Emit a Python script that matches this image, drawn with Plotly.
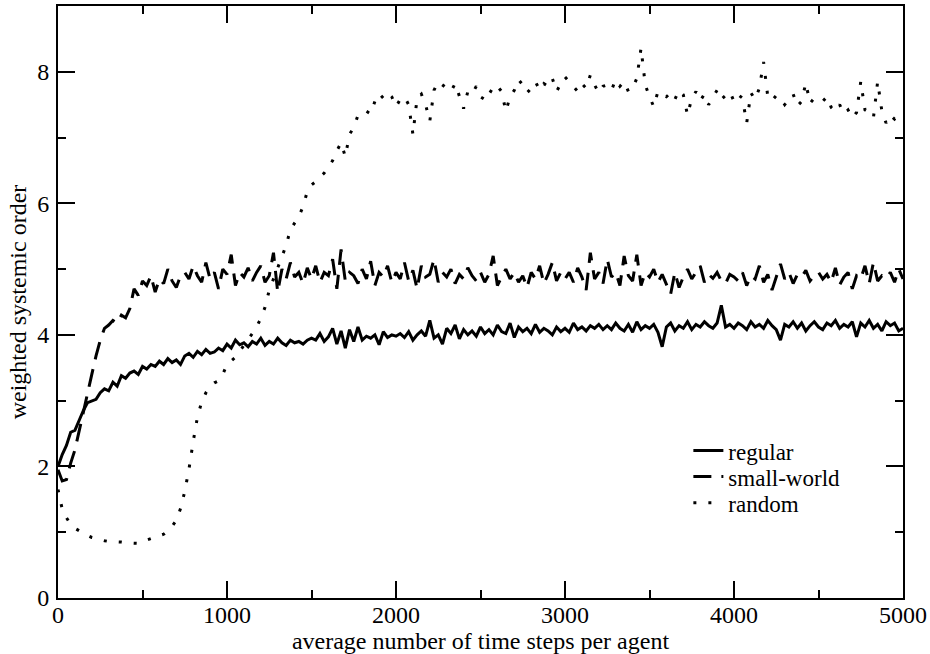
import plotly.graph_objects as go

# time steps (every 25 steps, 0..5000)
steps = list(range(0, 5001, 25))

regular = [
    2.00, 2.18, 2.32, 2.52, 2.55, 2.70, 2.85, 2.97, 2.99, 3.02,
    3.12, 3.18, 3.15, 3.28, 3.22, 3.38, 3.34, 3.42, 3.45, 3.40,
    3.52, 3.48, 3.55, 3.52, 3.60, 3.55, 3.64, 3.58, 3.62, 3.55,
    3.68, 3.72, 3.66, 3.75, 3.70, 3.78, 3.72, 3.74, 3.80, 3.76,
    3.86, 3.80, 3.92, 3.85, 3.88, 3.82, 3.90, 3.86, 3.95, 3.84,
    3.90, 3.86, 3.95, 3.88, 3.84, 3.92, 3.88, 3.90, 3.86, 3.92,
    3.95, 3.92, 4.02, 3.90, 3.97, 4.10, 3.86, 4.06, 3.80, 4.08,
    3.90, 4.12, 3.92, 3.98, 3.95, 4.00, 3.85, 4.05, 3.96, 4.00,
    3.98, 4.02, 3.96, 4.05, 3.92, 4.00, 4.06, 3.98, 4.22, 3.95,
    4.00, 3.86, 4.10, 4.02, 4.15, 3.94, 4.08, 4.00, 4.06, 3.98,
    4.12, 4.02, 4.08, 4.00, 4.15, 4.05, 4.02, 4.18, 3.96, 4.12,
    4.05, 4.10, 4.02, 4.16, 4.04, 4.10, 4.06, 4.00, 4.12, 4.05,
    4.10, 4.04, 4.18, 4.08, 4.12, 4.06, 4.14, 4.10, 4.16, 4.08,
    4.14, 4.08, 4.18, 4.10, 4.06, 4.16, 4.04, 4.20, 4.08, 4.14,
    4.10, 4.16, 4.04, 3.82, 4.12, 4.18, 4.06, 4.14, 4.10, 4.20,
    4.08, 4.16, 4.12, 4.20, 4.14, 4.10, 4.18, 4.45, 4.12, 4.16,
    4.10, 4.18, 4.14, 4.08, 4.20, 4.12, 4.16, 4.10, 4.22, 4.14,
    4.08, 3.92, 4.16, 4.12, 4.20, 4.10, 4.18, 4.06, 4.14, 4.20,
    4.12, 4.08, 4.18, 4.14, 4.22, 4.10, 4.16, 4.12, 4.20, 3.97,
    4.18, 4.12, 4.22, 4.10, 4.16, 4.06, 4.20, 4.14, 4.18, 4.06,
    4.10,
]

small_world = [
    1.95, 1.78, 1.80, 2.05, 2.25, 2.55, 2.85, 3.12, 3.40, 3.68,
    3.92, 4.10, 4.15, 4.22, 4.18, 4.30, 4.26, 4.40, 4.70, 4.60,
    4.82, 4.75, 4.90, 4.65, 4.85, 4.78, 5.00, 4.82, 4.72, 4.90,
    4.95, 4.85, 5.05, 4.90, 4.80, 5.10, 4.85, 4.95, 4.70, 5.00,
    4.92, 5.22, 4.75, 4.95, 4.88, 5.02, 4.82, 4.95, 5.05, 4.80,
    4.90, 5.25, 4.65, 5.00, 4.85, 5.10, 4.88, 4.95, 4.78, 5.02,
    4.85, 5.05, 4.80, 4.95, 4.90, 5.15, 4.70, 5.30, 4.82, 4.95,
    4.90, 4.78, 5.00, 4.85, 5.12, 4.75, 4.95, 4.88, 5.05, 4.80,
    4.95, 4.85, 5.10, 4.82, 4.98, 4.70, 5.05, 4.88, 4.92, 5.15,
    4.80, 4.95, 4.88, 5.00, 4.78, 4.92, 4.85, 5.02, 4.90, 4.82,
    4.95, 4.80, 4.92, 5.20, 4.75, 4.88, 5.00, 4.85, 4.95, 4.80,
    4.90, 4.72, 4.95, 4.85, 5.05, 4.78, 4.92, 5.10, 4.82, 4.95,
    4.85, 4.95, 4.80, 5.02, 4.88, 4.68, 5.25, 4.85, 4.95, 4.78,
    5.15, 4.88, 4.95, 4.75, 5.20, 4.90, 4.82, 5.22, 4.75, 4.95,
    4.88, 5.00, 4.80, 4.92, 4.78, 4.62, 4.95, 4.72, 4.88, 5.00,
    4.85, 4.95, 5.05, 4.80, 4.92, 4.86, 4.95, 4.82, 4.78, 4.92,
    4.88, 4.82, 4.95, 4.75, 4.90, 4.85, 5.05, 4.80, 4.92, 4.68,
    4.90, 5.08, 4.85, 4.95, 4.78, 4.92, 4.88, 4.98, 4.82, 4.90,
    4.95, 4.85, 4.92, 4.80, 5.02, 4.76, 4.88, 4.95, 4.70, 4.90,
    4.85, 5.05, 4.78, 5.10, 4.82, 4.90, 4.86, 4.95, 4.80, 5.00,
    4.85,
]

random_net = [
    1.65, 1.35, 1.22, 1.12, 1.06, 1.02, 0.98, 0.95, 0.92, 0.90,
    0.88, 0.87, 0.86, 0.86, 0.85, 0.85, 0.84, 0.84, 0.83, 0.83,
    0.86, 0.88, 0.90, 0.92, 0.95, 0.97, 1.02, 1.09, 1.18, 1.36,
    1.62, 1.96, 2.38, 2.75, 2.98, 3.12, 3.22, 3.27, 3.30, 3.40,
    3.55, 3.60, 3.66, 3.75, 3.85, 3.93, 4.02, 4.12, 4.25, 4.42,
    4.68, 4.85, 5.01, 5.20, 5.36, 5.60, 5.70, 5.80, 5.95, 6.18,
    6.28, 6.33, 6.40, 6.46, 6.55, 6.65, 6.80, 6.92, 6.71, 7.05,
    7.15, 7.34, 7.34, 7.40, 7.36, 7.55, 7.67, 7.60, 7.68, 7.62,
    7.47, 7.58, 7.62, 7.50, 7.05, 7.60, 7.66, 7.50, 7.25, 7.72,
    7.85, 7.80, 7.74, 7.70, 7.82, 7.62, 7.44, 7.70, 7.66, 7.78,
    7.62, 7.58, 7.72, 7.68, 7.78, 7.70, 7.40, 7.62, 7.72, 7.88,
    7.80, 7.68, 7.75, 7.85, 7.72, 7.82, 7.78, 7.90, 7.70, 7.82,
    7.92, 7.85, 7.78, 7.70, 7.82, 7.75, 7.95, 7.80, 7.68, 7.78,
    7.80, 7.72, 7.88, 7.78, 7.85, 7.70, 7.75, 7.90, 8.36, 7.80,
    7.62, 7.47, 7.70, 7.65, 7.62, 7.68, 7.58, 7.72, 7.65, 7.34,
    7.60, 7.70, 7.56, 7.66, 7.50, 7.62, 7.72, 7.58, 7.64, 7.70,
    7.55, 7.65, 7.60, 7.22, 7.68, 7.58, 7.75, 8.15, 7.62, 7.56,
    7.64, 7.60, 7.50, 7.58, 7.66, 7.48, 7.55, 7.83, 7.52, 7.60,
    7.58, 7.55, 7.62, 7.46, 7.40, 7.50, 7.36, 7.42, 7.30, 7.38,
    7.85, 7.42, 7.38, 7.30, 7.85, 7.40, 7.22, 7.34, 7.28, 7.35,
    7.38,
]

font_family = 'Liberation Serif, Times New Roman, serif'

series = [
    ('regular', regular, 'solid', 'legend'),
    ('small-world', small_world, '18px,10px', 'legend2'),
    ('random', random_net, '3px,12px', 'legend3'),
]

fig = go.Figure()
for name, values, dash, leg in series:
    fig.add_trace(go.Scatter(
        x=steps, y=values,
        mode='lines',
        name=name,
        line=dict(color='black', width=3, dash=dash),
        legend=leg,
        showlegend=True,
    ))

axis_common = dict(
    showline=True, linewidth=2, linecolor='black',
    mirror='ticks', ticks='inside', ticklen=17, tickwidth=2, tickcolor='black',
    showgrid=False, zeroline=False, automargin=False,
    tickfont=dict(family=font_family, size=24, color='black'),
)

fig.update_xaxes(
    range=[0, 5000], dtick=1000, tick0=0,
    minor=dict(dtick=500, ticklen=8, tickwidth=2, tickcolor='black', ticks='inside'),
    title=dict(text='average number of time steps per agent',
               font=dict(family=font_family, size=24, color='black'), standoff=8),
    ticklabelstandoff=-6,
    **axis_common,
)
fig.update_yaxes(
    range=[0, 9], dtick=2, tick0=0,
    minor=dict(dtick=1, ticklen=8, tickwidth=2, tickcolor='black', ticks='inside'),
    title=dict(text='weighted systemic order',
               font=dict(family=font_family, size=24, color='black'), standoff=4),
    ticklabelstandoff=2,
    **axis_common,
)

leg_style = dict(
    xanchor='left', yanchor='middle', x=0.746,
    bgcolor='rgba(0,0,0,0)', borderwidth=0,
    font=dict(family=font_family, size=23, color='black'),
)
fig.update_layout(
    width=930, height=654,
    margin=dict(l=58, r=27, t=6, b=56),
    plot_bgcolor='white', paper_bgcolor='white',
    showlegend=True,
    legend=dict(y=0.249, **leg_style),
    legend2=dict(y=0.205, **leg_style),
    legend3=dict(y=0.161, **leg_style),
)

fig.write_html("out.html", config={'displayModeBar': False},
               post_script="document.body.style.margin='0';")
